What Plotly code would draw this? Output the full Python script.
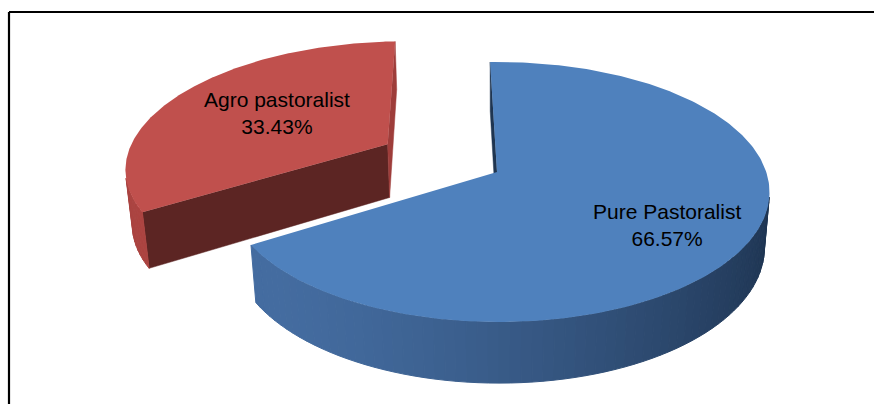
import numpy as np
import plotly.graph_objects as go

# ---- data ----
categories = ["Pure Pastoralist", "Agro pastoralist"]
shares = [66.57, 33.43]

# ---- style ----
explode = [0.0, 0.48]
start_angle = 91.7            # degrees, first slice starts here, runs clockwise
top_colors = ["#4F81BD", "#C0504D"]
wall_light = [(68, 108, 160), (172, 68, 65)]
wall_dark = [(30, 52, 81), (110, 44, 42)]
cut_hi_colors = ["#1F3550", "#5C2523"]   # face at the slice's high-angle edge
cut_lo_colors = ["#1F3550", "#9E3D3A"]   # face at the slice's low-angle edge
label_pos = [(667, 225), (277, 113)]
W, H = 874, 404

# ---- simple perspective camera (pixel space) ----
theta = np.radians(27.7)
S, C = np.sin(theta), np.cos(theta)
D = 5.75
FX, FY = 1540.0, 1570.0
KX = -0.03
PX, PY = 497.0, 172.0
DEPTH = 0.23
CAM = np.array([0.0, -D * C, D * S])
LIGHT = np.array([-0.8, -0.6])


def proj(X, Y, Z):
    X = np.asarray(X, float)
    Y = np.asarray(Y, float)
    Z = np.asarray(Z, float)
    z = D + C * Y - S * Z + KX * X
    return PX + FX * X / z, PY - FY * (S * Y + C * Z) / z


def rgb(c):
    return "rgb(%d,%d,%d)" % tuple(int(round(v)) for v in c)


fig = go.Figure()


def poly(xs, ys, color, lw=0.0):
    fig.add_trace(go.Scatter(
        x=list(xs) + [xs[0]], y=list(ys) + [ys[0]], mode="lines",
        fill="toself", fillcolor=color,
        line=dict(color=color, width=lw),
        hoverinfo="skip", showlegend=False))


total = float(sum(shares))
slices = []
t_hi = np.radians(start_angle)
for i, v in enumerate(shares):
    span = 2 * np.pi * v / total
    t_lo = t_hi - span
    mid = 0.5 * (t_hi + t_lo)
    ox, oy = explode[i] * np.cos(mid), explode[i] * np.sin(mid)
    slices.append((i, t_lo, t_hi, ox, oy))
    t_hi = t_lo


def visible(normal, point):
    return np.dot(normal, CAM - point) > 0


# draw back slice (red) first, then the front one (blue)
for i, t_lo, t_hi, ox, oy in [slices[1], slices[0]]:
    # cut faces
    for t_edge, ndir, col in ((t_hi, t_hi + np.pi / 2, cut_hi_colors[i]),
                              (t_lo, t_lo - np.pi / 2, cut_lo_colors[i])):
        n = np.array([np.cos(ndir), np.sin(ndir), 0.0])
        p = np.array([ox + 0.5 * np.cos(t_edge), oy + 0.5 * np.sin(t_edge), -DEPTH / 2])
        if visible(n, p):
            ex, ey = ox + np.cos(t_edge), oy + np.sin(t_edge)
            xs, ys = proj([ox, ex, ex, ox], [oy, ey, ey, oy], [0, 0, -DEPTH, -DEPTH])
            poly(xs, ys, col, 0.5)
    # outer wall, in small shaded segments
    nseg = max(8, int(abs(t_hi - t_lo) / np.radians(2.0)))
    ts = np.linspace(t_lo, t_hi, nseg + 1)
    for a, b in zip(ts[:-1], ts[1:]):
        tm = 0.5 * (a + b)
        n = np.array([np.cos(tm), np.sin(tm), 0.0])
        p = np.array([ox + np.cos(tm), oy + np.sin(tm), -DEPTH / 2])
        if not visible(n, p):
            continue
        dot = float(np.dot(n[:2], LIGHT))
        f = np.clip((dot + 0.8) / 1.8, 0, 1) ** 1.4
        col = [wall_dark[i][k] + (wall_light[i][k] - wall_dark[i][k]) * f for k in range(3)]
        X = [ox + np.cos(a), ox + np.cos(b), ox + np.cos(b), ox + np.cos(a)]
        Y = [oy + np.sin(a), oy + np.sin(b), oy + np.sin(b), oy + np.sin(a)]
        xs, ys = proj(X, Y, [0, 0, -DEPTH, -DEPTH])
        poly(xs, ys, rgb(col), 1.0)
    # top face
    tt = np.linspace(t_hi, t_lo, 240)
    X = np.concatenate([[ox], ox + np.cos(tt)])
    Y = np.concatenate([[oy], oy + np.sin(tt)])
    xs, ys = proj(X, Y, np.zeros_like(X))
    poly(xs, ys, top_colors[i], 0.0)

for i, cat in enumerate(categories):
    fig.add_annotation(
        x=label_pos[i][0], y=label_pos[i][1], xref="x", yref="y",
        text="%s<br>%.2f%%" % (cat, shares[i]), showarrow=False,
        font=dict(family="Liberation Sans, Arial, sans-serif", size=21, color="#000000"),
        align="center")

# frame lines (partial border, cropped picture)
fig.add_shape(type="line", xref="x", yref="y", x0=9, y0=12, x1=W, y1=12,
              line=dict(color="#000000", width=2.2))
fig.add_shape(type="line", xref="x", yref="y", x0=9, y0=12, x1=9, y1=H,
              line=dict(color="#000000", width=2.2))

fig.update_layout(
    width=W, height=H, margin=dict(l=0, r=0, t=0, b=0),
    paper_bgcolor="white", plot_bgcolor="white", showlegend=False,
    xaxis=dict(range=[0, W], visible=False, fixedrange=True),
    yaxis=dict(range=[H, 0], visible=False, fixedrange=True),
)
fig.write_html("out.html")
